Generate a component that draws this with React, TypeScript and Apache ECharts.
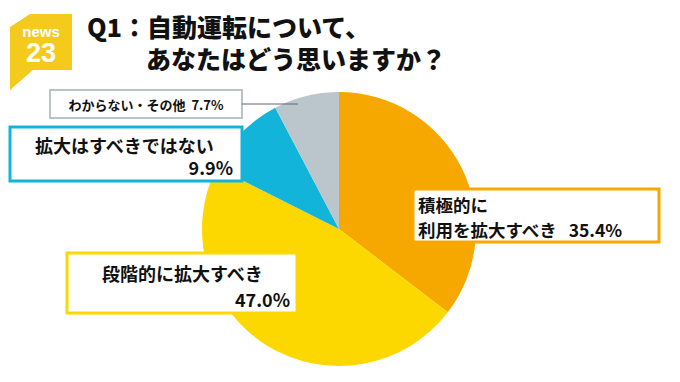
import React, { useEffect, useRef } from "react";
import * as echarts from "echarts";

const categories = ["積極的に利用を拡大すべき", "段階的に拡大すべき", "拡大はすべきではない", "わからない・その他"];
const values = [35.4, 47.0, 9.9, 7.7];
const colors = ["#F7A800", "#FDD800", "#12B4DA", "#BAC6CC"];
const titleLines = ["Q1：自動運転について、", "あなたはどう思いますか？"];

const FONT = '"Noto Sans CJK JP", "Noto Sans", sans-serif';
const LOGO_FONT = '"Liberation Sans", Arial, sans-serif';

function txt(text: string, x: number, y: number, size: number, align = "left", fill = "#111", weight: any = "bold", family = FONT) {
  return {
    type: "text",
    x,
    y,
    style: {
      text,
      fontSize: size,
      fontWeight: weight,
      fontFamily: family,
      fill,
      align,
      textAlign: align,
      verticalAlign: "middle",
      textVerticalAlign: "middle",
      lineHeight: size + 1,
    },
    z: 10,
  };
}

function box(x: number, y: number, w: number, h: number, stroke: string, lw: number) {
  return {
    type: "rect",
    shape: { x, y, width: w, height: h },
    style: { fill: "#fff", stroke, lineWidth: lw },
    z: 5,
  };
}

export default function App() {
  const ref = useRef<HTMLDivElement>(null);
  useEffect(() => {
    if (!ref.current) return;
    const chart = echarts.init(ref.current, null, { renderer: "svg" });
    const pct = (v: number) => v.toFixed(1) + "%";
    const graphic: any[] = [
      // logo
      {
        type: "polygon",
        shape: { points: [[10, 27], [30, 14], [72, 14], [72, 70], [33, 70], [10, 90]] },
        style: { fill: "#F4CB1C" },
      },
      txt("news", 41, 31, 15, "center", "#fff", "bold", LOGO_FONT),
      txt("23", 41, 53, 27, "center", "#fff", "bold", LOGO_FONT),
      // title
      txt(titleLines[0], 87, 26, 25, "left", "#111", 900),
      txt(titleLines[1], 146, 58, 25, "left", "#111", 900),
      // gray
      {
        type: "line",
        shape: { x1: 242, y1: 104, x2: 298, y2: 104 },
        style: { stroke: "#666", lineWidth: 1 },
        z: 6,
      },
      box(50, 90, 192, 28, "#B9C4CA", 2),
      txt(categories[3] + "  " + pct(values[3]), 146, 104, 13, "center"),
      // cyan
      box(10, 127, 232, 54, colors[2], 3),
      txt(categories[2], 35, 145, 18, "left"),
      txt(pct(values[2]), 233, 167, 18, "right"),
      // orange
      box(413, 189, 246, 53, colors[0], 3),
      txt(categories[0].slice(0, 4), 418, 204, 17.5, "left"),
      txt(categories[0].slice(4) + "   " + pct(values[0]), 418, 229.5, 17.5, "left"),
      // yellow
      box(67, 253, 230, 60, colors[1], 3),
      txt(categories[1], 102, 273, 18, "left"),
      txt(pct(values[1]), 290, 299, 18, "right"),
    ];
    chart.setOption({
      animation: false,
      backgroundColor: "#fff",
      graphic,
      series: [
        {
          type: "pie",
          center: [339, 229],
          radius: 137,
          startAngle: 90,
          clockwise: true,
          label: { show: false },
          labelLine: { show: false },
          itemStyle: { borderWidth: 0 },
          emphasis: { disabled: true },
          data: categories.map((c, i) => ({ name: c, value: values[i], itemStyle: { color: colors[i] } })),
          z: 1,
        },
      ],
    });
    return () => chart.dispose();
  }, []);
  return <div ref={ref} style={{ width: 680, height: 382, position: "absolute", left: 0, top: 0 }} />;
}
